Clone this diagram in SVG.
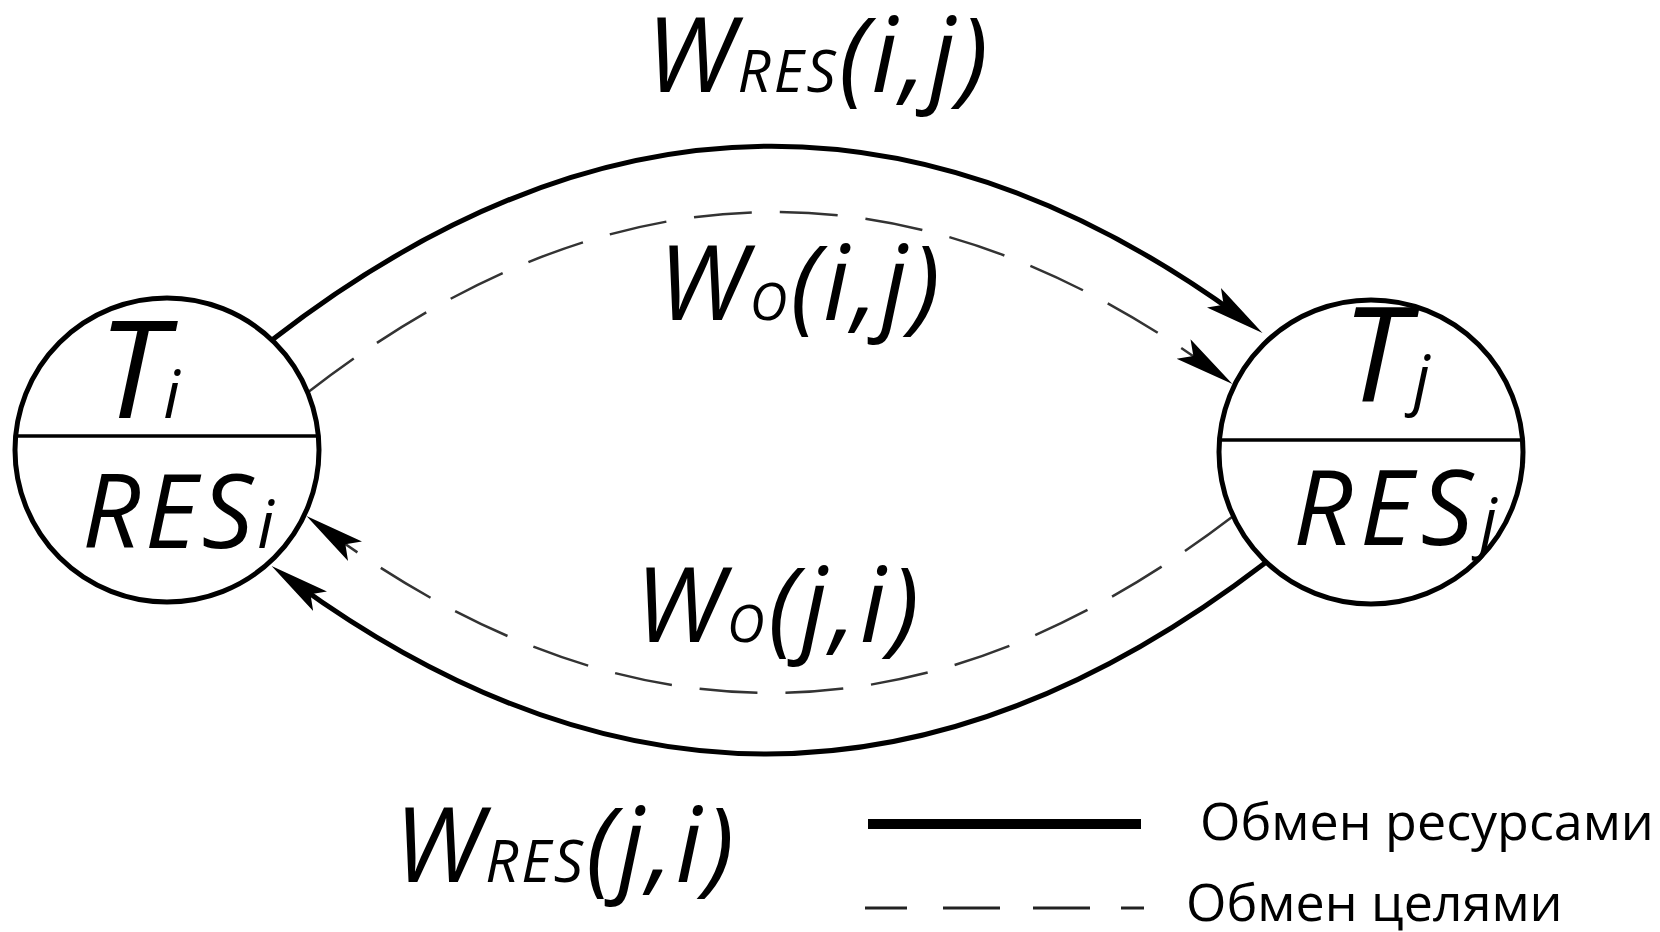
<svg xmlns="http://www.w3.org/2000/svg" width="1660" height="932" viewBox="0 0 1660 932">
<style>
.circ{fill:#fff;stroke:#000;stroke-width:5}
.div{stroke:#000;stroke-width:3.5}
.solid{fill:none;stroke:#000;stroke-width:5}
.dash{fill:none;stroke:#333;stroke-width:2.5;stroke-dasharray:58 28}
.m{font-family:"Open Sans","Noto Sans",sans-serif;font-style:italic;fill:#000}
.leg{font-family:"Open Sans","Noto Sans",sans-serif;fill:#000;font-size:52px}
</style>
<defs>
<marker id="arr" markerUnits="userSpaceOnUse" viewBox="0 -13 60 26" markerWidth="60" markerHeight="26" refX="30" refY="0" orient="auto">
<path d="M0,-12 L60,0 L0,12 L12,0 z" fill="#000"/>
</marker>
</defs>
<rect width="1660" height="932" fill="#fff"/>
<g id="connectors">
<path class="solid" d="M272 340 Q755.1 -34.8 1238.2 315.3" marker-end="url(#arr)"/>
<path class="dash" d="M307 393 Q756.1 44.7 1208 366.5" marker-end="url(#arr)"/>
<path class="solid" d="M1265 563 Q780 934.3 295.9 583.7" marker-end="url(#arr)"/>
<path class="dash" d="M1232 517 Q781.9 860.4 330.8 533.7" marker-end="url(#arr)"/>
</g>
<g id="node-i">
<circle class="circ" cx="167" cy="450" r="152"/>
<line class="div" x1="15" y1="436" x2="319" y2="436"/>
<text class="m" x="98" y="418" font-size="136" textLength="82">T<tspan font-size="66">i</tspan></text>
<text class="m" x="82" y="548" font-size="102" textLength="192">RES<tspan font-size="66">i</tspan></text>
</g>
<g id="node-j">
<circle class="circ" cx="1371" cy="452" r="152"/>
<line class="div" x1="1220" y1="440" x2="1522" y2="440"/>
<text class="m" x="1342" y="402" font-size="132" textLength="88">T<tspan font-size="66">j</tspan></text>
<text class="m" x="1293" y="545" font-size="104" textLength="204">RES<tspan font-size="66">j</tspan></text>
</g>
<g id="labels">
<text class="m" x="646" y="92" font-size="104" textLength="342">W<tspan font-size="58">RES</tspan>(i,j)</text>
<text class="m" x="658" y="320" font-size="104" textLength="282">W<tspan font-size="52">O</tspan>(i,j)</text>
<text class="m" x="635" y="642" font-size="104" textLength="284">W<tspan font-size="52">O</tspan>(j,i)</text>
<text class="m" x="394" y="882" font-size="104" textLength="340">W<tspan font-size="58">RES</tspan>(j,i)</text>
</g>
<g id="legend">
<line x1="868" y1="824" x2="1141" y2="824" stroke="#000" stroke-width="10"/>
<text class="leg" x="1200" y="840">Обмен ресурсами</text>
<g stroke="#222" stroke-width="3">
<line x1="865" y1="908" x2="907" y2="908"/>
<line x1="943" y1="908" x2="1000" y2="908"/>
<line x1="1033" y1="908" x2="1090" y2="908"/>
<line x1="1121" y1="908" x2="1144" y2="908"/>
</g>
<text class="leg" x="1186" y="921">Обмен целями</text>
</g>
</svg>
